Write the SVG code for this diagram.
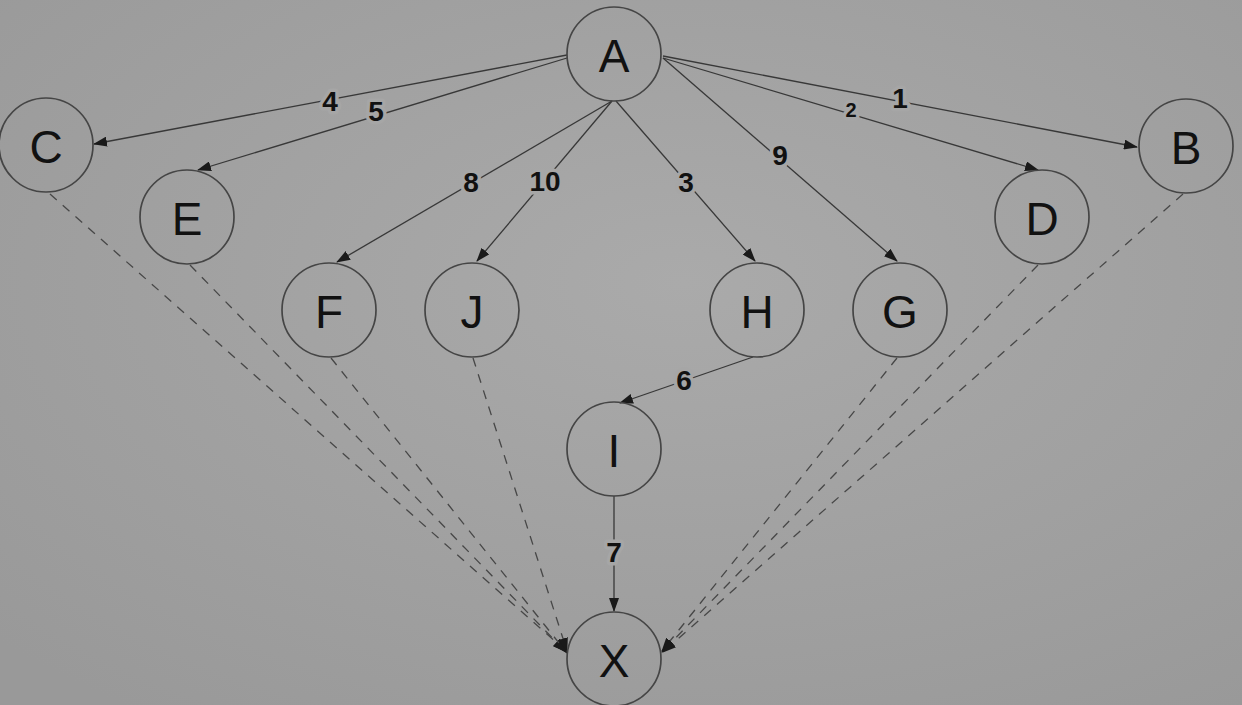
<svg xmlns="http://www.w3.org/2000/svg" width="1242" height="705" viewBox="0 0 1242 705">
<defs>
<radialGradient id="bg" cx="55%" cy="40%" r="75%">
<stop offset="0" stop-color="#aaaaaa"/>
<stop offset="1" stop-color="#999999"/>
</radialGradient>
<marker id="ah" markerWidth="14" markerHeight="10" refX="13" refY="5" orient="auto" markerUnits="userSpaceOnUse">
<path d="M0,0 L14,5 L0,10 Z" fill="#1a1a1a"/>
</marker>
<style>
.n circle{fill:none;stroke:#454545;stroke-width:1.7}
.n text{font-family:"Liberation Sans",Arial,sans-serif;font-size:46px;fill:#111111;text-anchor:middle;dominant-baseline:central}
.e{stroke:#383838;stroke-width:1.3;fill:none;marker-end:url(#ah)}
.d{stroke:#474747;stroke-width:1.3;fill:none;stroke-dasharray:9 8;marker-end:url(#ah)}
.l{font-family:"Liberation Sans",Arial,sans-serif;font-weight:bold;font-size:28px;fill:#111111;text-anchor:middle;dominant-baseline:central;stroke:#a6a6a6;stroke-width:7;paint-order:stroke;stroke-linejoin:round}
</style>
</defs>
<rect width="1242" height="705" fill="url(#bg)"/>
<g id="connectors">
<line class="e" x1="567" y1="55" x2="94" y2="144"/>
<line class="e" x1="567" y1="58" x2="198" y2="170"/>
<line class="e" x1="612" y1="101" x2="337" y2="262"/>
<line class="e" x1="612" y1="101" x2="477" y2="261"/>
<line class="e" x1="616" y1="101" x2="755" y2="261"/>
<line class="e" x1="663" y1="58" x2="897" y2="261"/>
<line class="e" x1="663" y1="58" x2="1038" y2="170"/>
<line class="e" x1="663" y1="56" x2="1137" y2="147"/>
<line class="e" x1="753" y1="357" x2="620" y2="403"/>
<line class="e" x1="614" y1="496" x2="614" y2="611"/>
<line class="d" x1="50" y1="194" x2="566" y2="651"/>
<line class="d" x1="190" y1="265" x2="566" y2="652"/>
<line class="d" x1="331" y1="358" x2="567" y2="653"/>
<line class="d" x1="473" y1="358" x2="567" y2="651"/>
<line class="d" x1="897" y1="358" x2="662" y2="651"/>
<line class="d" x1="1038" y1="265" x2="662" y2="652"/>
<line class="d" x1="1183" y1="194" x2="663" y2="652"/>
<text class="l" x="330" y="101">4</text>
<text class="l" x="376" y="111">5</text>
<text class="l" x="471" y="182">8</text>
<text class="l" x="545" y="181">10</text>
<text class="l" x="686" y="182">3</text>
<text class="l" x="780" y="155">9</text>
<text class="l" x="851" y="110" style="font-size:20px">2</text>
<text class="l" x="900" y="98">1</text>
<text class="l" x="684" y="380">6</text>
<text class="l" x="614" y="552">7</text>
</g>
<g id="node-A" class="n"><circle cx="614" cy="54" r="47"/><text x="614" y="56">A</text></g>
<g id="node-C" class="n"><circle cx="46" cy="145" r="47"/><text x="46" y="147">C</text></g>
<g id="node-E" class="n"><circle cx="187" cy="217" r="47"/><text x="187" y="219">E</text></g>
<g id="node-B" class="n"><circle cx="1186" cy="146" r="47"/><text x="1186" y="148">B</text></g>
<g id="node-D" class="n"><circle cx="1042" cy="217" r="47"/><text x="1042" y="219">D</text></g>
<g id="node-F" class="n"><circle cx="329" cy="310" r="47"/><text x="329" y="312">F</text></g>
<g id="node-J" class="n"><circle cx="472" cy="310" r="47"/><text x="472" y="312">J</text></g>
<g id="node-H" class="n"><circle cx="757" cy="310" r="47"/><text x="757" y="312">H</text></g>
<g id="node-G" class="n"><circle cx="900" cy="310" r="47"/><text x="900" y="312">G</text></g>
<g id="node-I" class="n"><circle cx="614" cy="449" r="47"/><text x="614" y="451">I</text></g>
<g id="node-X" class="n"><circle cx="614" cy="659" r="47"/><text x="614" y="661">X</text></g>
</svg>
